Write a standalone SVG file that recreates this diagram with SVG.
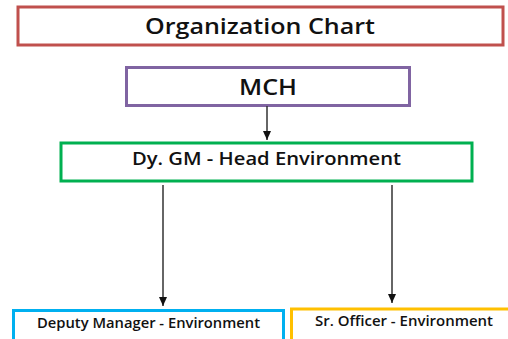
<svg xmlns="http://www.w3.org/2000/svg" width="508" height="339" viewBox="0 0 508 339">
<defs>
<marker id="ah" markerUnits="userSpaceOnUse" markerWidth="10" markerHeight="10" viewBox="0 0 10 10" refX="9" refY="5" orient="auto">
<path d="M0,1 L9,5 L0,9 Z" fill="#111"/>
</marker>
<style>
.box{fill:#fff;stroke-width:3}
.t{font-family:"Open Sans","Liberation Sans",sans-serif;font-weight:600;fill:#111;text-anchor:middle}
.c{stroke:#333;stroke-width:1.5;fill:none;marker-end:url(#ah)}
</style>
</defs>
<rect width="508" height="339" fill="#fff"/>
<g id="title">
<rect class="box" x="18" y="7" width="485" height="38" stroke="#c0504d"/>
<text class="t" x="260" y="34" font-size="22" textLength="230" lengthAdjust="spacingAndGlyphs">Organization Chart</text>
</g>
<g id="mch">
<rect class="box" x="126.5" y="67.5" width="283" height="38" stroke="#8064a2"/>
<text class="t" x="268" y="94.5" font-size="21" textLength="58" lengthAdjust="spacingAndGlyphs">MCH</text>
</g>
<g id="dygm">
<rect class="box" x="61" y="143" width="411" height="38" stroke="#00b050"/>
<text class="t" x="266.5" y="165" font-size="18.5" textLength="269" lengthAdjust="spacingAndGlyphs">Dy. GM - Head Environment</text>
</g>
<g id="deputy">
<rect class="box" x="13.5" y="310.5" width="270" height="40" stroke="#00b0f0"/>
<text class="t" x="148.5" y="328" font-size="14" textLength="223" lengthAdjust="spacingAndGlyphs">Deputy Manager - Environment</text>
</g>
<g id="officer">
<rect class="box" x="291.5" y="309" width="230" height="40" stroke="#ffc000"/>
<text class="t" x="404" y="326" font-size="14" textLength="178" lengthAdjust="spacingAndGlyphs">Sr. Officer - Environment</text>
</g>
<g id="connectors">
<line class="c" x1="267" y1="106" x2="267" y2="140"/>
<line class="c" x1="163" y1="185" x2="163" y2="306"/>
<line class="c" x1="392" y1="185" x2="392" y2="303"/>
</g>
</svg>
